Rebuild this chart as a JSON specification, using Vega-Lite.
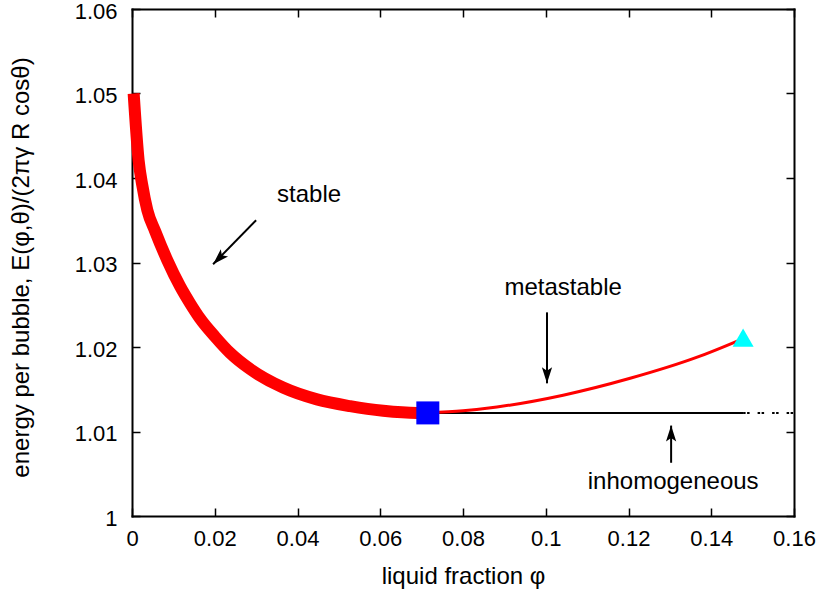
{
  "$schema": "https://vega.github.io/schema/vega-lite/v6.json",
  "width": 662,
  "height": 507,
  "autosize": "none",
  "padding": {"left": 132, "top": 9, "right": 33, "bottom": 76},
  "background": "white",
  "config": {
    "font": "Liberation Sans",
    "view": {"stroke": null},
    "axis": {
      "domainColor": "black",
      "domainWidth": 2,
      "domainCap": "square",
      "tickColor": "black",
      "tickWidth": 1.5,
      "tickSize": -8,
      "labelFont": "Liberation Sans",
      "labelFontSize": 22,
      "labelColor": "black",
      "labelFlush": false,
      "labelOverlap": false,
      "titleFont": "Liberation Sans",
      "titleFontSize": 24,
      "titleFontWeight": "normal",
      "titleColor": "black",
      "grid": false,
      "zindex": 1
    }
  },
  "datasets": {
    "stable": [
      {"phi": 0.0004, "E": 1.0500},
      {"phi": 0.0016, "E": 1.0421},
      {"phi": 0.0025, "E": 1.0391},
      {"phi": 0.0037, "E": 1.0362},
      {"phi": 0.0056, "E": 1.0337},
      {"phi": 0.0085, "E": 1.0303},
      {"phi": 0.0116, "E": 1.0272},
      {"phi": 0.0140, "E": 1.0252},
      {"phi": 0.0164, "E": 1.0234},
      {"phi": 0.0201, "E": 1.0212},
      {"phi": 0.0237, "E": 1.0193},
      {"phi": 0.0285, "E": 1.0174},
      {"phi": 0.0365, "E": 1.0152},
      {"phi": 0.0447, "E": 1.0138},
      {"phi": 0.0527, "E": 1.0130},
      {"phi": 0.0607, "E": 1.01245},
      {"phi": 0.0689, "E": 1.0122},
      {"phi": 0.0715, "E": 1.0122}
    ],
    "metastable": [
      {"phi": 0.0715, "E": 1.0122},
      {"phi": 0.0800, "E": 1.01245},
      {"phi": 0.0882, "E": 1.0129},
      {"phi": 0.1042, "E": 1.0143},
      {"phi": 0.1204, "E": 1.0163},
      {"phi": 0.1366, "E": 1.0188},
      {"phi": 0.1453, "E": 1.0205},
      {"phi": 0.1477, "E": 1.0210}
    ],
    "inhomogeneous": [
      {"phi": 0.0715, "E": 1.0122},
      {"phi": 0.1477, "E": 1.0122}
    ],
    "inhomogeneousTail": [
      {"phi": 0.1477, "E": 1.0122},
      {"phi": 0.1600, "E": 1.0122}
    ],
    "transition": [
      {"phi": 0.0715, "E": 1.0122}
    ],
    "spinodal": [
      {"phi": 0.1477, "E": 1.0211}
    ],
    "arrows": [
      {"name": "stable", "phi": 0.0196, "E": 1.0298, "phi2": 0.0300, "E2": 1.0350},
      {"name": "metastable", "phi": 0.1003, "E": 1.0157, "phi2": 0.1003, "E2": 1.0241},
      {"name": "inhomogeneous", "phi": 0.1303, "E": 1.0107, "phi2": 0.1303, "E2": 1.0063}
    ],
    "labels": [
      {"text": "stable", "phi": 0.0428, "E": 1.0380},
      {"text": "metastable", "phi": 0.1042, "E": 1.0270},
      {"text": "inhomogeneous", "phi": 0.1308, "E": 1.0040}
    ]
  },
  "resolve": {"axis": {"x": "independent", "y": "independent"}},
  "layer": [
    {
      "data": {"name": "inhomogeneous"},
      "mark": {"type": "line", "color": "black", "strokeWidth": 2},
      "encoding": {
        "x": {
          "field": "phi", "type": "quantitative",
          "scale": {"domain": [0, 0.16], "nice": false, "zero": false},
          "axis": {
            "orient": "bottom",
            "values": [0, 0.02, 0.04, 0.06, 0.08, 0.1, 0.12, 0.14, 0.16],
            "format": "~g",
            "labelPadding": 20,
            "title": "liquid fraction φ",
            "titleX": 331,
            "titleY": 67,
            "titleBaseline": "alphabetic"
          }
        },
        "y": {
          "field": "E", "type": "quantitative",
          "scale": {"domain": [1, 1.06], "nice": false, "zero": false},
          "axis": {
            "orient": "left",
            "values": [1, 1.01, 1.02, 1.03, 1.04, 1.05, 1.06],
            "format": "~g",
            "labelPadding": 23,
            "labelOffset": 2,
            "title": "energy per bubble, E(φ,θ)/(2πγ R cosθ)",
            "titleAngle": -90,
            "titleX": -111,
            "titleY": 258,
            "titleBaseline": "middle",
            "titleAlign": "center"
          }
        }
      }
    },
    {
      "data": {"name": "inhomogeneousTail"},
      "mark": {"type": "line", "color": "black", "strokeWidth": 2, "strokeDash": [2.5, 1.5, 2.5, 8]},
      "encoding": {
        "x": {
          "field": "phi", "type": "quantitative",
          "scale": {"domain": [0, 0.16], "nice": false, "zero": false},
          "axis": {
            "orient": "top",
            "values": [0, 0.02, 0.04, 0.06, 0.08, 0.1, 0.12, 0.14, 0.16],
            "labels": false,
            "title": null
          }
        },
        "y": {
          "field": "E", "type": "quantitative",
          "scale": {"domain": [1, 1.06], "nice": false, "zero": false},
          "axis": {
            "orient": "right",
            "values": [1, 1.01, 1.02, 1.03, 1.04, 1.05, 1.06],
            "labels": false,
            "title": null
          }
        }
      }
    },
    {
      "data": {"name": "stable"},
      "mark": {"type": "line", "color": "#ff0000", "strokeWidth": 12, "strokeJoin": "round", "strokeCap": "butt", "interpolate": "monotone"},
      "encoding": {
        "x": {"field": "phi", "type": "quantitative", "scale": {"domain": [0, 0.16], "nice": false, "zero": false}, "axis": null},
        "y": {"field": "E", "type": "quantitative", "scale": {"domain": [1, 1.06], "nice": false, "zero": false}, "axis": null}
      }
    },
    {
      "data": {"name": "metastable"},
      "mark": {"type": "line", "color": "#ff0000", "strokeWidth": 3, "interpolate": "monotone"},
      "encoding": {
        "x": {"field": "phi", "type": "quantitative", "scale": {"domain": [0, 0.16], "nice": false, "zero": false}, "axis": null},
        "y": {"field": "E", "type": "quantitative", "scale": {"domain": [1, 1.06], "nice": false, "zero": false}, "axis": null}
      }
    },
    {
      "data": {"name": "transition"},
      "mark": {"type": "point", "shape": "square", "size": 529, "filled": true, "fill": "#0000ff", "strokeWidth": 0, "opacity": 1},
      "encoding": {
        "x": {"field": "phi", "type": "quantitative", "scale": {"domain": [0, 0.16], "nice": false, "zero": false}, "axis": null},
        "y": {"field": "E", "type": "quantitative", "scale": {"domain": [1, 1.06], "nice": false, "zero": false}, "axis": null}
      }
    },
    {
      "data": {"name": "spinodal"},
      "mark": {"type": "point", "shape": "triangle-up", "size": 441, "filled": true, "fill": "#00ffff", "strokeWidth": 0, "opacity": 1},
      "encoding": {
        "x": {"field": "phi", "type": "quantitative", "scale": {"domain": [0, 0.16], "nice": false, "zero": false}, "axis": null},
        "y": {"field": "E", "type": "quantitative", "scale": {"domain": [1, 1.06], "nice": false, "zero": false}, "axis": null}
      }
    },
    {
      "data": {"name": "arrows"},
      "mark": {"type": "rule", "color": "black", "strokeWidth": 2},
      "encoding": {
        "x": {"field": "phi2", "type": "quantitative", "scale": {"domain": [0, 0.16], "nice": false, "zero": false}, "axis": null},
        "y": {"field": "E2", "type": "quantitative", "scale": {"domain": [1, 1.06], "nice": false, "zero": false}, "axis": null},
        "x2": {"field": "phi"},
        "y2": {"field": "E"}
      }
    },
    {
      "data": {"name": "arrows"},
      "transform": [{"filter": "datum.name === 'stable'"}],
      "mark": {"type": "point", "shape": "M0,0L0.32,1L0,0.78L-0.32,1Z", "size": 1024, "angle": 225, "filled": true, "fill": "black", "strokeWidth": 0, "opacity": 1},
      "encoding": {
        "x": {"field": "phi", "type": "quantitative", "scale": {"domain": [0, 0.16], "nice": false, "zero": false}, "axis": null},
        "y": {"field": "E", "type": "quantitative", "scale": {"domain": [1, 1.06], "nice": false, "zero": false}, "axis": null}
      }
    },
    {
      "data": {"name": "arrows"},
      "transform": [{"filter": "datum.name === 'metastable'"}],
      "mark": {"type": "point", "shape": "M0,0L0.32,1L0,0.78L-0.32,1Z", "size": 1024, "angle": 180, "filled": true, "fill": "black", "strokeWidth": 0, "opacity": 1},
      "encoding": {
        "x": {"field": "phi", "type": "quantitative", "scale": {"domain": [0, 0.16], "nice": false, "zero": false}, "axis": null},
        "y": {"field": "E", "type": "quantitative", "scale": {"domain": [1, 1.06], "nice": false, "zero": false}, "axis": null}
      }
    },
    {
      "data": {"name": "arrows"},
      "transform": [{"filter": "datum.name === 'inhomogeneous'"}],
      "mark": {"type": "point", "shape": "M0,0L0.32,1L0,0.78L-0.32,1Z", "size": 1024, "angle": 0, "filled": true, "fill": "black", "strokeWidth": 0, "opacity": 1},
      "encoding": {
        "x": {"field": "phi", "type": "quantitative", "scale": {"domain": [0, 0.16], "nice": false, "zero": false}, "axis": null},
        "y": {"field": "E", "type": "quantitative", "scale": {"domain": [1, 1.06], "nice": false, "zero": false}, "axis": null}
      }
    },
    {
      "data": {"name": "labels"},
      "mark": {"type": "text", "font": "Liberation Sans", "fontSize": 24, "color": "black", "align": "center", "baseline": "middle"},
      "encoding": {
        "x": {"field": "phi", "type": "quantitative", "scale": {"domain": [0, 0.16], "nice": false, "zero": false}, "axis": null},
        "y": {"field": "E", "type": "quantitative", "scale": {"domain": [1, 1.06], "nice": false, "zero": false}, "axis": null},
        "text": {"field": "text"}
      }
    }
  ]
}
